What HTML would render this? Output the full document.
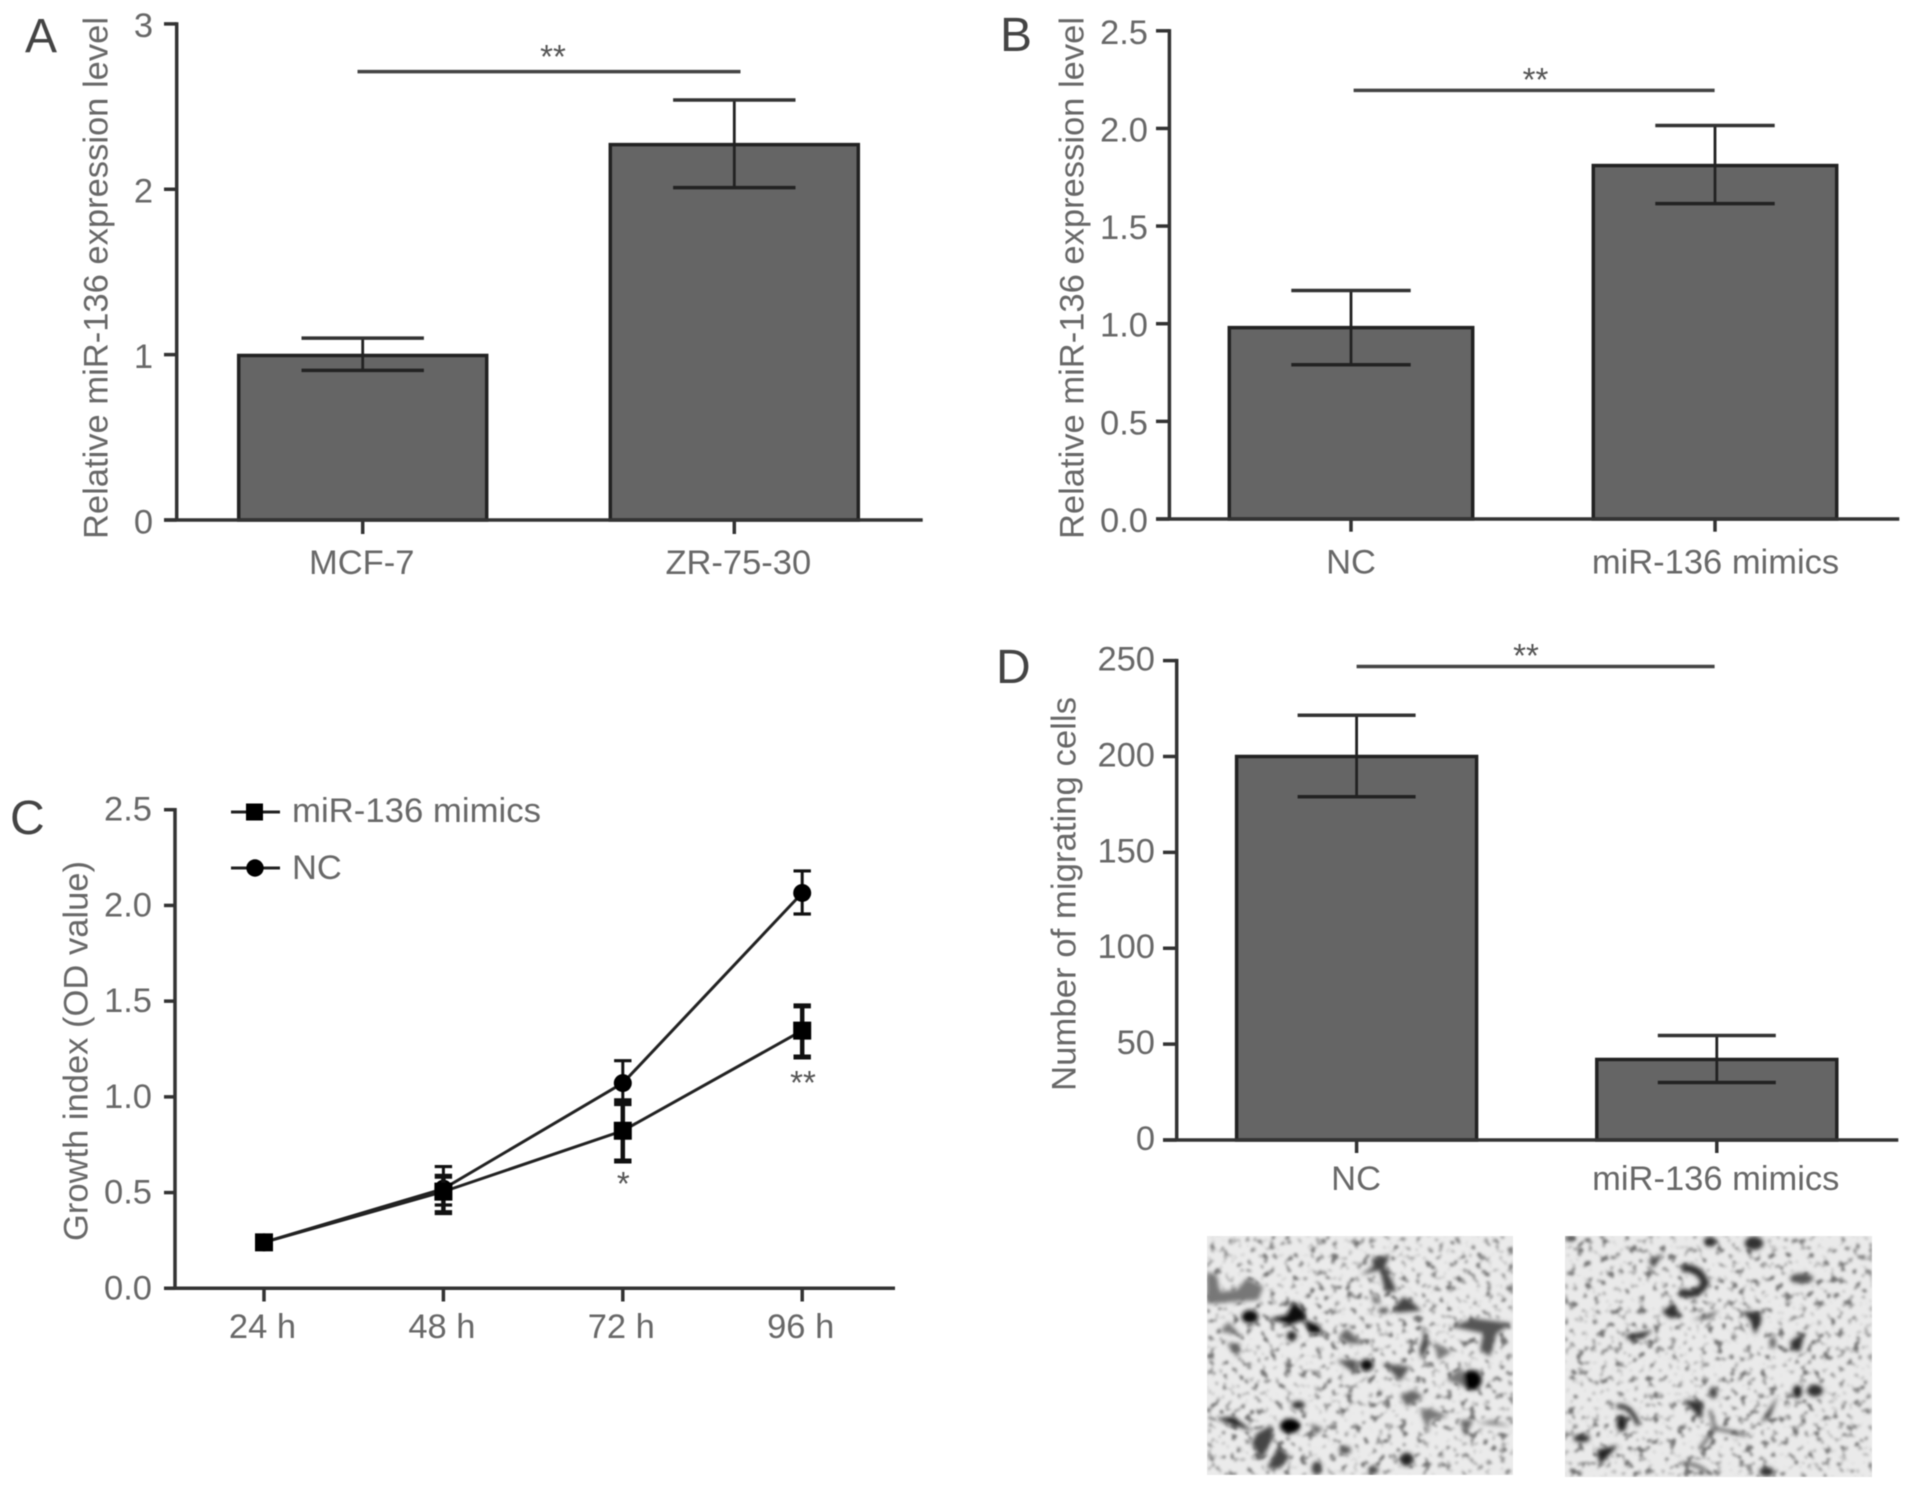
<!DOCTYPE html>
<html lang="en">
<head>
<meta charset="utf-8">
<title>miR-136 expression, growth and migration figure</title>
<style>
  html, body { margin: 0; padding: 0; background: #fff; }
  #figure { display: block; width: 1913px; height: 1490px; font-family: "Liberation Sans", sans-serif; filter: blur(0.6px); }
  text { font-family: "Liberation Sans", sans-serif; font-size: 34.5px; fill: #686868; }
  .panel-letter { font-size: 48px; fill: #444; }
  .stars { font-size: 33px; fill: #555; text-anchor: middle; }
  .sig { stroke: #444; stroke-width: 3.5; }
  .leg { stroke: #222; stroke-width: 3; }
</style>
</head>
<body>
<svg id="figure" xmlns="http://www.w3.org/2000/svg" width="1913" height="1490" viewBox="0 0 1913 1490">
  <defs>
    <filter id="speckle" x="0" y="0" width="100%" height="100%" color-interpolation-filters="sRGB">
      <feTurbulence type="fractalNoise" baseFrequency="0.13" numOctaves="2" seed="7"/>
      <feColorMatrix type="matrix" values="0 0 0 0 .45  0 0 0 0 .45  0 0 0 0 .45  5 0 0 0 -2.75"/>
      <feGaussianBlur stdDeviation="1.3"/>
    </filter>
    <filter id="soft" x="-5%" y="-5%" width="110%" height="110%">
      <feGaussianBlur stdDeviation="7"/>
    </filter>
    <clipPath id="clip-photo-nc"><rect x="1207" y="1236" width="306" height="239"/></clipPath>
    <clipPath id="clip-photo-mimics"><rect x="1565" y="1236" width="307" height="241"/></clipPath>
  </defs>

  <g id="panel-a">
    <text class="panel-letter" x="25" y="52">A</text>
    <text transform="translate(107.5,539) rotate(-90)" textLength="522" lengthAdjust="spacingAndGlyphs">Relative miR-136 expression level</text>
    <line class="sig" x1="357.5" y1="71.6" x2="740.5" y2="71.6"/>
    <text class="stars" x="553" y="68">**</text>
  </g>

  <g id="panel-b">
    <text class="panel-letter" x="1000" y="51">B</text>
    <text transform="translate(1083.5,539) rotate(-90)" textLength="522" lengthAdjust="spacingAndGlyphs">Relative miR-136 expression level</text>
    <line class="sig" x1="1353.6" y1="90.4" x2="1714.6" y2="90.4"/>
    <text class="stars" x="1535.5" y="91">**</text>
  </g>

  <g id="panel-c">
    <text class="panel-letter" x="10" y="834">C</text>
    <text transform="translate(87.5,1241) rotate(-90)" textLength="380" lengthAdjust="spacingAndGlyphs">Growth index (OD value)</text>
    <g>
      <line class="leg" x1="231" y1="812" x2="280" y2="812"/>
      <rect x="246" y="803.5" width="17" height="17" fill="#000"/>
      <text x="292" y="822" textLength="249" lengthAdjust="spacingAndGlyphs">miR-136 mimics</text>
    </g>
    <g>
      <line class="leg" x1="231" y1="868" x2="280" y2="868"/>
      <circle cx="255" cy="868" r="8.7" fill="#000"/>
      <text x="292" y="879">NC</text>
    </g>
    <text class="stars" x="623.3" y="1195">*</text>
    <text class="stars" x="803" y="1094">**</text>
  </g>

  <g id="panel-d">
    <text class="panel-letter" x="996" y="683">D</text>
    <text transform="translate(1075.5,1091) rotate(-90)" textLength="394" lengthAdjust="spacingAndGlyphs">Number of migrating cells</text>
    <line class="sig" x1="1356.6" y1="666.5" x2="1714.6" y2="666.5"/>
    <text class="stars" x="1526" y="667">**</text>
  </g>

  <g clip-path="url(#clip-photo-nc)">
    <rect x="1207" y="1236" width="306" height="239" fill="#ebebeb"/>
    <rect x="1207" y="1236" width="306" height="239" fill="#000" filter="url(#speckle)"/>
    <g transform="translate(1190,1220) scale(0.33333)" filter="url(#soft)">
      <polygon fill="#777" points="50,155 80,165 90,215 140,210 170,175 220,200 205,240 130,245 85,250 50,250"/>
      <ellipse fill="#111" cx="180" cy="290" rx="25" ry="20"/>
      <polygon fill="#111" points="240,295 290,285 310,245 345,275 345,300 385,315 400,340 360,340 340,300 300,315"/>
      <ellipse fill="#222" cx="305" cy="348" rx="15" ry="15"/>
      <polygon fill="#777" points="90,335 115,305 150,345"/>
      <polygon fill="#666" points="110,370 150,370 145,415"/>
      <polygon fill="#444" points="510,165 550,140 545,115 600,105 585,140 610,190 620,215 585,215 570,150"/>
      <polygon fill="#666" points="545,215 575,250 550,250"/>
      <polygon fill="#444" points="610,265 640,230 665,245 695,272 620,278"/>
      <ellipse fill="#444" cx="580" cy="272" rx="15" ry="8"/>
      <polygon fill="#666" points="445,350 470,325 520,372 475,370"/>
      <polygon fill="#444" points="685,310 710,340 718,370 695,420 688,390 703,345"/>
      <polygon fill="#777" points="730,365 785,395 745,420"/>
      <polygon fill="#555" points="785,320 850,295 965,310 920,340 900,410 870,390 880,340"/>
      <ellipse fill="#111" cx="530" cy="435" rx="20" ry="18"/>
      <polygon fill="#555" points="440,420 500,420 500,465"/>
      <polygon fill="#555" points="575,430 660,440 630,485 600,450"/>
      <ellipse fill="#000" cx="845" cy="480" rx="30" ry="30"/>
      <polygon fill="#777" points="770,480 815,440 825,500"/>
      <polygon fill="#666" points="630,525 670,510 700,530 650,560"/>
      <polygon fill="#777" points="690,570 720,565 775,590 720,600 715,640"/>
      <polygon fill="#666" points="810,600 850,600 825,650"/>
      <polygon fill="#888" points="860,610 910,600 965,620"/>
      <ellipse fill="#000" cx="300" cy="618" rx="30" ry="22"/>
      <polygon fill="#222" points="75,595 130,590 190,635 130,615"/>
      <polygon fill="#444" points="200,640 245,615 250,650 215,720 185,670"/>
      <polygon fill="#444" points="230,745 265,680 300,710 270,745"/>
      <ellipse fill="#333" cx="325" cy="555" rx="20" ry="12"/>
      <polygon fill="#666" points="360,610 400,625 375,645"/>
      <ellipse fill="#222" cx="650" cy="718" rx="20" ry="20"/>
      <ellipse fill="#444" cx="380" cy="745" rx="15" ry="20"/>
      <ellipse fill="#444" cx="550" cy="750" rx="15" ry="12"/>
      <ellipse fill="#555" cx="465" cy="690" rx="18" ry="12"/>
    </g>
  </g>

  <g clip-path="url(#clip-photo-mimics)">
    <rect x="1565" y="1236" width="307" height="241" fill="#eaeaea"/>
    <rect x="1565" y="1236" width="307" height="241" fill="#000" filter="url(#speckle)"/>
    <g transform="translate(1550,1220) scale(0.33333)" filter="url(#soft)">
      <ellipse fill="#333" cx="60" cy="55" rx="15" ry="8"/>
      <ellipse fill="#333" cx="612" cy="70" rx="28" ry="20"/>
      <ellipse fill="#333" cx="480" cy="65" rx="18" ry="15"/>
      <path d="M395,145 Q450,140 465,190 Q440,235 390,215" stroke="#333" stroke-width="24" fill="none"/>
      <polygon fill="#333" points="335,275 370,250 395,290 360,295"/>
      <polygon fill="#555" points="425,300 510,270 480,295"/>
      <polygon fill="#333" points="225,345 310,330 280,355 235,360"/>
      <polygon fill="#444" points="295,120 340,100 310,145"/>
      <polygon fill="#333" points="575,275 630,275 635,300 615,345 600,300"/>
      <ellipse fill="#555" cx="755" cy="175" rx="35" ry="15"/>
      <polygon fill="#333" points="720,365 765,335 750,395 725,390"/>
      <ellipse fill="#666" cx="668" cy="368" rx="10" ry="18"/>
      <polygon fill="#333" points="400,540 460,545 455,600"/>
      <path d="M480,570 L495,625 L590,645 M495,625 L450,685" stroke="#555" stroke-width="9" fill="none"/>
      <polygon fill="#333" points="630,610 685,525 660,590"/>
      <ellipse fill="#222" cx="742" cy="515" rx="14" ry="20"/>
      <ellipse fill="#333" cx="795" cy="512" rx="24" ry="18"/>
      <ellipse fill="#444" cx="490" cy="518" rx="12" ry="18"/>
      <path d="M200,560 Q240,550 265,615" stroke="#333" stroke-width="14" fill="none"/>
      <ellipse fill="#222" cx="215" cy="610" rx="15" ry="25"/>
      <polygon fill="#222" points="140,690 205,675 150,735"/>
      <ellipse fill="#333" cx="95" cy="655" rx="25" ry="12"/>
      <ellipse fill="#333" cx="650" cy="755" rx="22" ry="14"/>
      <path d="M395,730 Q440,730 470,755" stroke="#444" stroke-width="9" fill="none"/>
    </g>
  </g>
</svg>

<script>
// Panel A data
const panelACategories = ['MCF-7', 'ZR-75-30'];
const panelAMeans = [0.995, 2.27];
const panelAUpper = [1.1, 2.54];
const panelALower = [0.905, 2.01];
const panelATicks = ['0', '1', '2', '3'];

// Panel B data
const panelBCategories = ['NC', 'miR-136 mimics'];
const panelBMeans = [0.98, 1.81];
const panelBUpper = [1.17, 2.015];
const panelBLower = [0.79, 1.615];
const panelBTicks = ['0.0', '0.5', '1.0', '1.5', '2.0', '2.5'];

// Panel C data
const panelCCategories = ['24 h', '48 h', '72 h', '96 h'];
const panelCTicks = ['0.0', '0.5', '1.0', '1.5', '2.0', '2.5'];
const mimicsValues = [0.24, 0.505, 0.823, 1.346];
const mimicsUpper = [0.26, 0.585, 0.98, 1.475];
const mimicsLower = [0.22, 0.395, 0.665, 1.208];
const ncValues = [0.24, 0.52, 1.072, 2.065];
const ncUpper = [0.26, 0.636, 1.189, 2.18];
const ncLower = [0.22, 0.435, 0.96, 1.955];

// Panel D data
const panelDCategories = ['NC', 'miR-136 mimics'];
const panelDMeans = [200, 42];
const panelDUpper = [221.5, 54.5];
const panelDLower = [179, 30];
const panelDTicks = ['0', '50', '100', '150', '200', '250'];

const SVG_NS = 'http://www.w3.org/2000/svg';

function mk(parent, tag, attrs, name) {
  const el = document.createElementNS(SVG_NS, tag);
  for (const k in attrs) el.setAttribute(k, attrs[k]);
  
  
  parent.appendChild(el);
  return el;
}

function drawAxes(group, prefix, L, categories, ticks, xScale, yScale) {
  ticks.forEach(function (t) {
    const y = yScale(Number(t));
    mk(group, 'line', { x1: L.axisLeft, y1: y, x2: L.axisX, y2: y, stroke: '#333', 'stroke-width': 3.5 }, prefix + '-y-tick-' + t);
    const label = mk(group, 'text', { x: L.tickLabelRight, y: y + L.tickLabelDy, 'text-anchor': 'end' }, prefix + '-y-tick-label-' + t);
    label.textContent = t;
  });
  const top = yScale(Number(ticks[ticks.length - 1]));
  mk(group, 'line', { x1: L.axisX, y1: top - 1.7, x2: L.axisX, y2: L.yZero, stroke: '#333', 'stroke-width': 3.5 }, prefix + '-y-axis');
  categories.forEach(function (c, i) {
    const x = xScale(i);
    mk(group, 'line', { x1: x, y1: L.yZero, x2: x, y2: L.tickBottom, stroke: '#333', 'stroke-width': 3.5 }, prefix + '-x-tick-' + i);
    const label = mk(group, 'text', { x: x + L.labelShift[i], y: L.labelBaseline, 'text-anchor': 'middle' }, prefix + '-x-label-' + i);
    label.textContent = c;
  });
}

function drawBarPanel(groupId, prefix, L, categories, means, upper, lower, ticks) {
  const group = document.getElementById(groupId);
  const max = Number(ticks[ticks.length - 1]);
  const yScale = function (v) { return L.yZero - (v / max) * (L.yZero - L.yMax); };
  const xScale = function (i) { return L.xStart + i * L.xStep; };
  categories.forEach(function (c, i) {
    const x = xScale(i);
    const top = yScale(means[i]);
    mk(group, 'rect', { x: x - L.barWidth / 2, y: top, width: L.barWidth, height: L.yZero - top, fill: '#656565', stroke: '#222', 'stroke-width': 3.5 }, prefix + '-bar-' + i);
  });
  categories.forEach(function (c, i) {
    const x = xScale(i);
    const hi = yScale(upper[i]);
    const lo = yScale(lower[i]);
    mk(group, 'line', { x1: x, y1: hi, x2: x, y2: lo, stroke: '#222', 'stroke-width': 2.8 }, prefix + '-error-stem-' + i);
    mk(group, 'line', { x1: x - L.capHalf, y1: hi, x2: x + L.capHalf, y2: hi, stroke: '#333', 'stroke-width': 3.5 }, prefix + '-error-cap-top-' + i);
    mk(group, 'line', { x1: x - L.capHalf, y1: lo, x2: x + L.capHalf, y2: lo, stroke: '#222', 'stroke-width': 3.5 }, prefix + '-error-cap-bottom-' + i);
  });
  drawAxes(group, prefix, L, categories, ticks, xScale, yScale);
  mk(group, 'line', { x1: L.axisLeft, y1: L.yZero, x2: L.axisRight, y2: L.yZero, stroke: '#333', 'stroke-width': 3.5 }, prefix + '-x-axis');
}

function drawLinePanel() {
  const group = document.getElementById('panel-c');
  const L = { axisX: 175, axisLeft: 164, axisRight: 895, yZero: 1288.3, yMax: 809.7, tickBottom: 1301.5, labelBaseline: 1338, labelShift: [-1.5, -1.5, -1.5, -1.5], tickLabelRight: 152, tickLabelDy: 11, xStart: 264, xStep: 179.4 };
  const max = Number(panelCTicks[panelCTicks.length - 1]);
  const yScale = function (v) { return L.yZero - (v / max) * (L.yZero - L.yMax); };
  const xScale = function (i) { return L.xStart + i * L.xStep; };

  function series(name, values, upper, lower, stemWidth, capWidth, marker) {
    const pts = values.map(function (v, i) { return xScale(i) + ',' + yScale(v); }).join(' ');
    mk(group, 'polyline', { points: pts, fill: 'none', stroke: '#222', 'stroke-width': 3 }, name + '-line');
    values.forEach(function (v, i) {
      const x = xScale(i);
      const hi = yScale(upper[i]);
      const lo = yScale(lower[i]);
      mk(group, 'line', { x1: x, y1: hi, x2: x, y2: lo, stroke: '#111', 'stroke-width': stemWidth }, name + '-error-stem-' + i);
      mk(group, 'line', { x1: x - 8.7, y1: hi, x2: x + 8.7, y2: hi, stroke: '#111', 'stroke-width': capWidth }, name + '-error-cap-top-' + i);
      mk(group, 'line', { x1: x - 8.7, y1: lo, x2: x + 8.7, y2: lo, stroke: '#111', 'stroke-width': capWidth }, name + '-error-cap-bottom-' + i);
      if (marker === 'square') {
        mk(group, 'rect', { x: x - 9, y: yScale(v) - 9, width: 18, height: 18, fill: '#000' }, name + '-point-' + i);
      } else {
        mk(group, 'circle', { cx: x, cy: yScale(v), r: 9, fill: '#000' }, name + '-point-' + i);
      }
    });
  }

  series('nc-series', ncValues, ncUpper, ncLower, 3, 3.2, 'circle');
  series('mimics-series', mimicsValues, mimicsUpper, mimicsLower, 4.5, 5, 'square');
  drawAxes(group, 'panel-c', L, panelCCategories, panelCTicks, xScale, yScale);
  mk(group, 'line', { x1: L.axisLeft, y1: L.yZero, x2: L.axisRight, y2: L.yZero, stroke: '#333', 'stroke-width': 3.5 }, 'panel-c-x-axis');
}

drawBarPanel('panel-a', 'panel-a', { axisX: 176.7, axisLeft: 164, axisRight: 922.7, yZero: 520, yMax: 23.9, tickBottom: 534, labelBaseline: 574, labelShift: [-1, 4], tickLabelRight: 153, tickLabelDy: 13.3, xStart: 362.7, xStep: 371.6, barWidth: 248, capHalf: 61.2 }, panelACategories, panelAMeans, panelAUpper, panelALower, panelATicks);
drawBarPanel('panel-b', 'panel-b', { axisX: 1169.4, axisLeft: 1156, axisRight: 1899.3, yZero: 519, yMax: 30.8, tickBottom: 531.7, labelBaseline: 573.3, labelShift: [0, 0.5], tickLabelRight: 1148, tickLabelDy: 13, xStart: 1351, xStep: 364, barWidth: 243.4, capHalf: 59.7 }, panelBCategories, panelBMeans, panelBUpper, panelBLower, panelBTicks);
drawLinePanel();
drawBarPanel('panel-d', 'panel-d', { axisX: 1176.7, axisLeft: 1163, axisRight: 1898.3, yZero: 1140, yMax: 660.6, tickBottom: 1153, labelBaseline: 1190, labelShift: [-0.5, -1], tickLabelRight: 1155, tickLabelDy: 10, xStart: 1356.6, xStep: 360.2, barWidth: 240, capHalf: 59 }, panelDCategories, panelDMeans, panelDUpper, panelDLower, panelDTicks);
</script>
</body>
</html>
